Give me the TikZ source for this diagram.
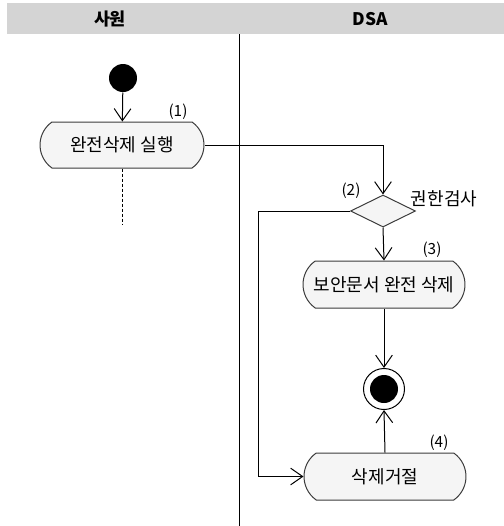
\documentclass[tikz,border=0pt]{standalone}
\usepackage{fontspec}
\setmainfont{Noto Sans CJK KR}
\usetikzlibrary{arrows.meta,shapes.geometric,shapes.misc}
\definecolor{lanegray}{RGB}{212,212,212}
\definecolor{actfill}{RGB}{245,245,245}
\definecolor{edgegray}{RGB}{60,60,60}
\tikzset{every picture/.style={line width=0.75pt}}
\tikzset{
  action/.style={draw=edgegray, fill=actfill, rounded rectangle, rounded rectangle arc length=110,
    minimum width=121.5pt, minimum height=35.25pt, inner sep=0pt, font=\fontsize{13.5}{15}\selectfont},
  decision/.style={draw=edgegray, fill=actfill, diamond, minimum width=48.75pt, minimum height=24pt, inner sep=0pt},
  note/.style={inner sep=0.75pt, font=\fontsize{11.5}{13}\selectfont},
  lane/.style={inner sep=0.75pt, font=\fontsize{13}{15}\selectfont\bfseries},
  flow/.style={-{Straight Barb[length=9pt,width=12.5pt]}}
}

\begin{document}
\begin{tikzpicture}[x=0.75pt,y=0.75pt,yscale=-1.0,xscale=1.0]
    \useasboundingbox (0,0) rectangle (504,526);

    % Swimlane Header
    \fill [lanegray] (7,3) rectangle (504,34);
    \node (laneA) [lane] at (110,19) {사원};
    \node (laneB) [lane] at (370,19) {DSA};
    % Lane Divider
    \draw (239,34) -- (239,526);

    % Initial Node
    \node (start) [circle, fill=black, minimum size=21pt, inner sep=0pt] at (123,78) {};
    % Action Node
    \node (perform) [action, minimum width=123pt, minimum height=34.5pt] at (122,145) {완전삭제 실행};
    \node (lbl1) [note] at (178,112) {(1)};
    \coordinate (cont) at (122,225);
    % Decision Node
    \node (check) [decision] at (383,211) {};
    \node (lbl2) [note] at (351,191) {(2)};
    \node (guard) [inner sep=0.75pt, font=\fontsize{13.5}{15}\selectfont] at (444,199) {권한검사};
    % Action Node
    \node (erase) [action] at (384,284.5) {보안문서 완전 삭제};
    \node (lbl3) [note] at (432,250) {(3)};
    % Final Node
    \node (final) [circle, draw=black, fill=white, minimum size=30.75pt, inner sep=0pt] at (384,389) {};
    \node (finaldot) [circle, fill=black, minimum size=21pt, inner sep=0pt] at (final.center) {};
    % Action Node
    \node (reject) [action] at (385,476.5) {삭제거절};
    \node (lbl4) [note] at (439,443) {(4)};
    \coordinate (loop) at (258,0);

    % Connection
    \draw [flow] (start) -- (perform);
    % Connection
    \draw [dash pattern={on 2.25pt off 1.5pt}] (perform.south) -- (cont);
    % Connection
    \draw [flow] (perform.east) -| (check.north);
    % Connection
    \draw [flow] (check.south) -- (erase.north);
    % Connection
    \draw [flow] (erase.south) -- (final.north);
    % Connection
    \draw [flow] (reject.north) -- (final.south);
    % Connection
    \draw [flow] (check.west) -- (check.west -| loop) |- (reject.west);
\end{tikzpicture}
\end{document}
